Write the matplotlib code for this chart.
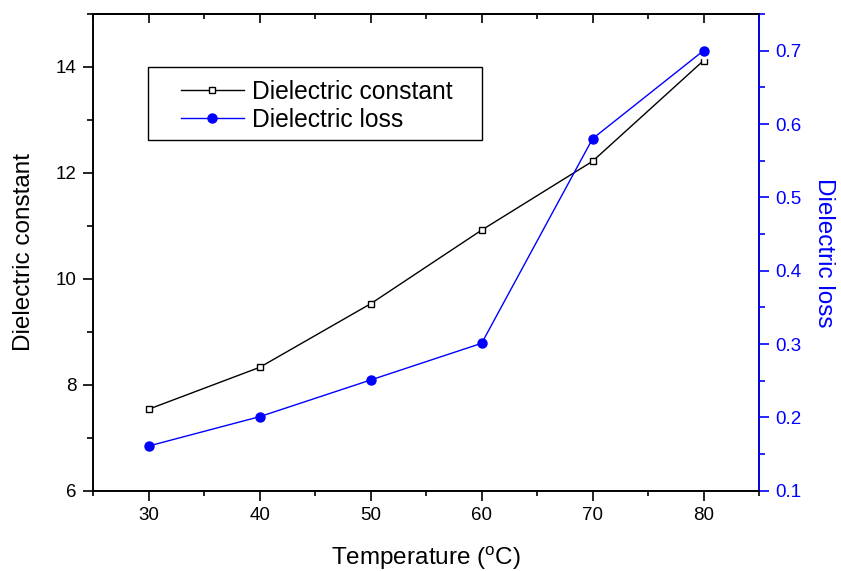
import numpy as np
import matplotlib
matplotlib.use("Agg")
import matplotlib.pyplot as plt
from matplotlib.ticker import MultipleLocator
from matplotlib.patches import Rectangle

plt.rcParams['font.family'] = ['Liberation Sans', 'DejaVu Sans']

# data
temperature = [30, 40, 50, 60, 70, 80]
dielectric_constant = [7.54, 8.33, 9.53, 10.92, 12.22, 14.12]
dielectric_loss = [0.161, 0.201, 0.251, 0.301, 0.58, 0.70]

W, H = 841, 571
fig = plt.figure(figsize=(W / 100, H / 100), dpi=100)
ax1 = fig.add_axes([0.111, 0.1406, 0.7915, 0.8349])
ax2 = ax1.twinx()

# black series on the left axis (white halo gives the gap round each marker)
l1, = ax1.plot(temperature, dielectric_constant, color='black', lw=1.0,
               marker='s', ms=5, mfc='white', mec='black', mew=1.0,
               zorder=4, label='Dielectric constant')
ax1.plot(temperature, dielectric_constant, ls='none', marker='s', ms=10,
         mfc='white', mec='white', zorder=3)

# blue series on the right axis
l2, = ax2.plot(temperature, dielectric_loss, color='blue', lw=1.0,
               marker='o', ms=6.5, mfc='blue', mec='blue',
               zorder=4, label='Dielectric loss')
ax2.plot(temperature, dielectric_loss, ls='none', marker='o', ms=11,
         mfc='white', mec='white', zorder=3)

ax1.set_xlim(25, 85)
ax1.set_ylim(6, 15)
ax2.set_ylim(0.1, 0.75)

ax1.xaxis.set_major_locator(MultipleLocator(10))
ax1.xaxis.set_minor_locator(MultipleLocator(5))
ax1.yaxis.set_major_locator(MultipleLocator(2))
ax1.yaxis.set_minor_locator(MultipleLocator(1))
ax2.yaxis.set_major_locator(MultipleLocator(0.1))
ax2.yaxis.set_minor_locator(MultipleLocator(0.05))
ax2.yaxis.set_major_formatter(plt.FuncFormatter(lambda v, p: f"{v:.1f}"))

for sp in ax1.spines.values():
    sp.set_linewidth(1.2)
for sp in ax2.spines.values():
    sp.set_linewidth(1.2)
ax2.spines['right'].set_color('blue')

ax1.tick_params(axis='x', which='major', direction='out', length=7, width=1.2,
                labelsize=13.5, pad=5, top=False)
ax1.tick_params(axis='x', which='minor', direction='out', length=3.5, width=1.2, top=False)
ax1.tick_params(axis='y', which='major', direction='out', length=7, width=1.2,
                labelsize=13.5, pad=5)
ax1.tick_params(axis='y', which='minor', direction='out', length=4, width=1.2)
ax2.tick_params(axis='y', which='major', direction='out', length=7, width=1.2,
                labelsize=13.5, pad=5, colors='blue')
ax2.tick_params(axis='y', which='minor', direction='out', length=4, width=1.2,
                colors='blue')

# inward ticks on the top edge
top = ax1.secondary_xaxis('top')
top.xaxis.set_major_locator(MultipleLocator(10))
top.xaxis.set_minor_locator(MultipleLocator(5))
top.tick_params(axis='x', which='major', direction='in', length=6.5, width=1.2,
                labeltop=False)
top.tick_params(axis='x', which='minor', direction='in', length=3.5, width=1.2)
top.spines['top'].set_linewidth(1.2)

ax1.set_xlabel('Temperature ($\\mathregular{^{o}}$C)', fontsize=17.5, labelpad=15)
ax1.set_ylabel('Dielectric constant', fontsize=17.5, labelpad=15)
ax2.set_ylabel('Dielectric loss', fontsize=17.5, color='blue', rotation=270,
               labelpad=24)

# legend box drawn separately (Origin style padding), legend itself frameless
fig.patches.append(Rectangle((148 / W, 1 - 140 / H), (482 - 148) / W, (140 - 67) / H,
                             transform=fig.transFigure, fill=True, facecolor='white',
                             edgecolor='black', lw=1.0, zorder=9))
leg = fig.legend([l1, l2], ['Dielectric constant', 'Dielectric loss'],
                 loc='upper left', bbox_to_anchor=(181 / W, 1 - 80 / H),
                 bbox_transform=fig.transFigure, fontsize=17.7, frameon=False,
                 handlelength=2.55, handletextpad=0.35, labelspacing=0.16,
                 borderpad=0, borderaxespad=0)
leg.set_zorder(10)

fig.savefig('out.png', dpi=100)
